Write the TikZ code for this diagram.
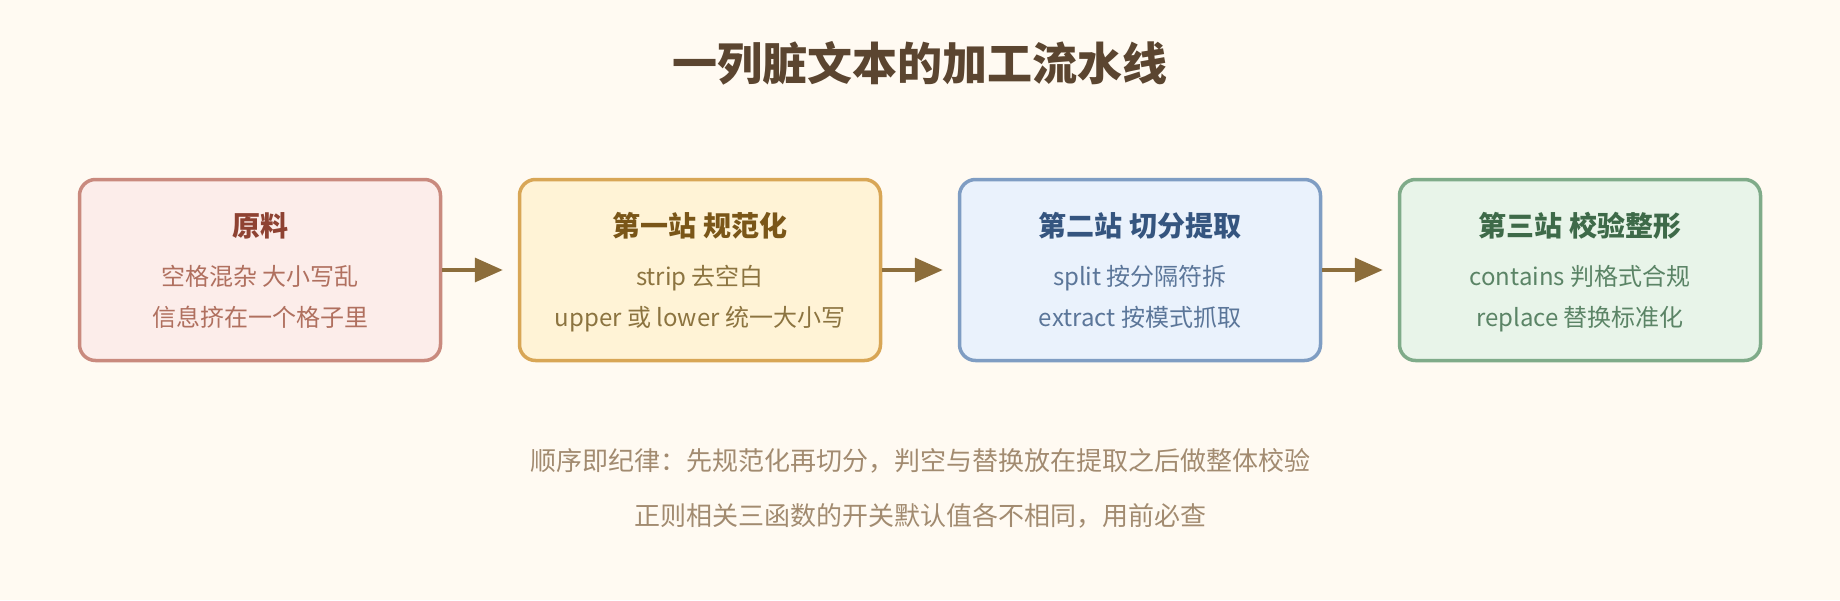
\documentclass[tikz,border=0pt]{standalone}
\usepackage{fontspec}
\setmainfont{Noto Sans CJK SC}
\usetikzlibrary{arrows.meta}

\definecolor{paper}{HTML}{FFFAF2}
\definecolor{ink}{HTML}{5B4530}
\definecolor{flow}{HTML}{8C6D3B}
\definecolor{note}{HTML}{A28B70}
\definecolor{rawfill}{HTML}{FCEDEA}
\definecolor{rawdraw}{HTML}{C98A7E}
\definecolor{rawhead}{HTML}{8E4232}
\definecolor{rawtext}{HTML}{B0705F}
\definecolor{normfill}{HTML}{FFF3D6}
\definecolor{normdraw}{HTML}{D8A656}
\definecolor{normhead}{HTML}{7A5618}
\definecolor{normtext}{HTML}{8C7440}
\definecolor{splitfill}{HTML}{EAF2FC}
\definecolor{splitdraw}{HTML}{7F9DC3}
\definecolor{splithead}{HTML}{35557F}
\definecolor{splittext}{HTML}{5B7699}
\definecolor{checkfill}{HTML}{E8F4E9}
\definecolor{checkdraw}{HTML}{7FAB89}
\definecolor{checkhead}{HTML}{3E6A49}
\definecolor{checktext}{HTML}{5B8466}

\begin{document}
\begin{tikzpicture}[x=1pt,y=1pt,->,>={Triangle[length=28pt,width=24pt]},
                    stage box/.style={rectangle,rounded corners=16pt,line width=3.5pt,
                                      minimum width=361pt,minimum height=181pt},
                    stage head/.style={anchor=base,font=\bfseries\fontsize{28}{34}\selectfont},
                    stage text/.style={anchor=base,font=\fontsize{24}{30}\selectfont},
                    note text/.style={anchor=base,text=note,font=\fontsize{26}{32}\selectfont}]

  \useasboundingbox (0,0) rectangle (1840,-600);
  \fill[paper] (0,0) rectangle (1840,-600);

  \node[anchor=base,text=ink,font=\bfseries\fontsize{45}{54}\selectfont] (title) at (920,-80) {一列脏文本的加工流水线};

  \node[stage box,draw=rawdraw,fill=rawfill] (raw) at (260,-270) {};
  \node[stage box,draw=normdraw,fill=normfill] (norm) at (700,-270) {};
  \node[stage box,draw=splitdraw,fill=splitfill] (split) at (1140,-270) {};
  \node[stage box,draw=checkdraw,fill=checkfill] (check) at (1580,-270) {};

  \node[stage head,text=rawhead] (raw-h) at ([yshift=34pt]raw.center) {原料};
  \node[stage text,text=rawtext] (raw-1) at ([yshift=-15pt]raw.center) {空格混杂 大小写乱};
  \node[stage text,text=rawtext] (raw-2) at ([yshift=-56pt]raw.center) {信息挤在一个格子里};

  \node[stage head,text=normhead] (norm-h) at ([yshift=34pt]norm.center) {第一站 规范化};
  \node[stage text,text=normtext] (norm-1) at ([yshift=-15pt]norm.center) {strip 去空白};
  \node[stage text,text=normtext] (norm-2) at ([yshift=-56pt]norm.center) {upper 或 lower 统一大小写};

  \node[stage head,text=splithead] (split-h) at ([yshift=34pt]split.center) {第二站 切分提取};
  \node[stage text,text=splittext] (split-1) at ([yshift=-15pt]split.center) {split 按分隔符拆};
  \node[stage text,text=splittext] (split-2) at ([yshift=-56pt]split.center) {extract 按模式抓取};

  \node[stage head,text=checkhead] (check-h) at ([yshift=34pt]check.center) {第三站 校验整形};
  \node[stage text,text=checktext] (check-1) at ([yshift=-15pt]check.center) {contains 判格式合规};
  \node[stage text,text=checktext] (check-2) at ([yshift=-56pt]check.center) {replace 替换标准化};

  \node[note text] (rule-1) at (920,-470) {顺序即纪律：先规范化再切分，判空与替换放在提取之后做整体校验};
  \node[note text] (rule-2) at (920,-525) {正则相关三函数的开关默认值各不相同，用前必查};

  \path[color=flow,line width=3.5pt,shorten >=15pt]
   (raw) edge (norm)
   (norm) edge (split)
   (split) edge (check);
\end{tikzpicture}
\end{document}
